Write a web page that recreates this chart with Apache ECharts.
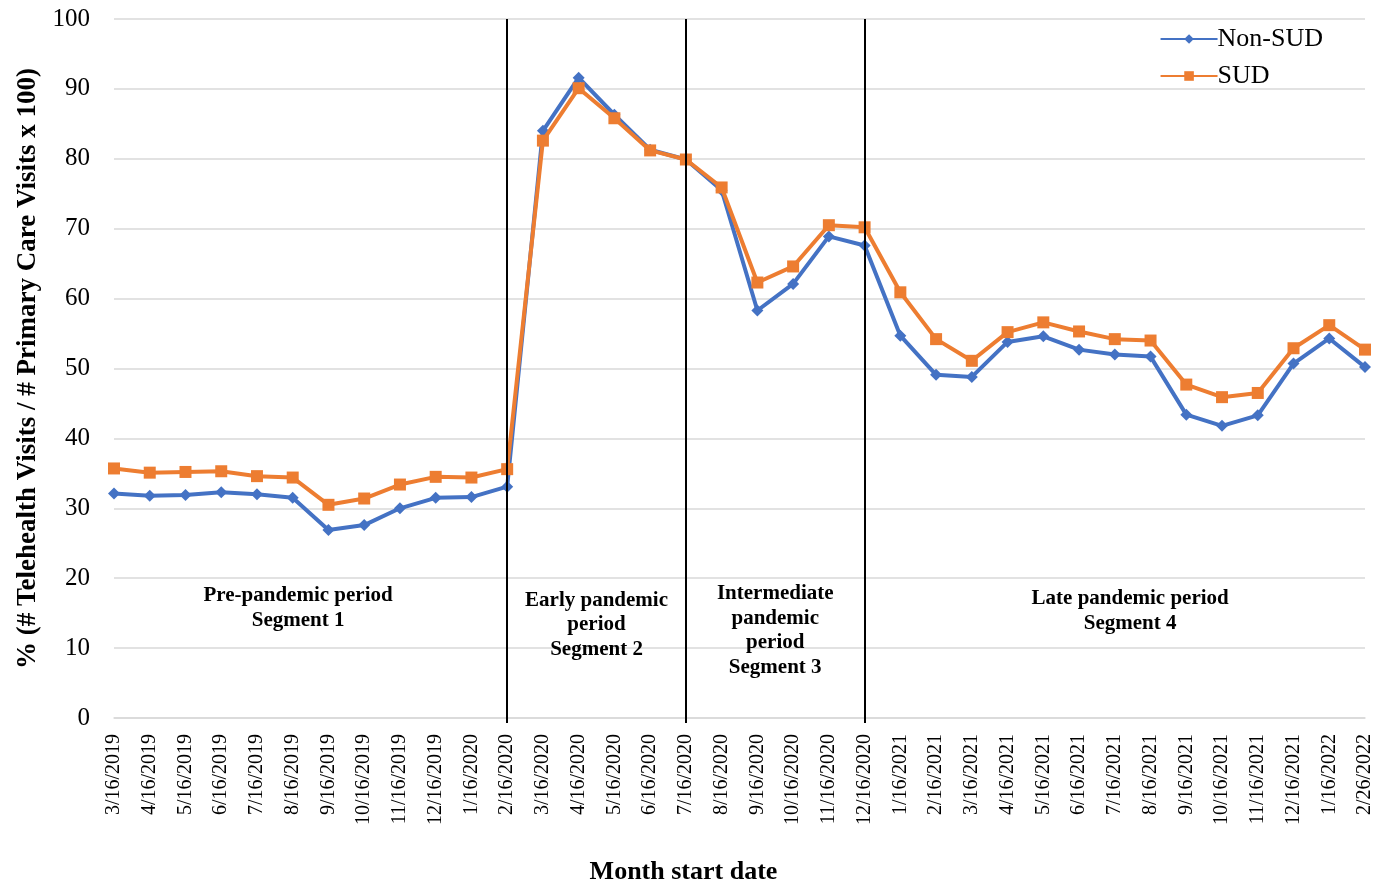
<!DOCTYPE html>
<html>
<head>
<meta charset="utf-8">
<script src="https://cdn.jsdelivr.net/npm/echarts@6/dist/echarts.min.js"></script>
<style>
  html, body { margin: 0; padding: 0; background: #fff; }
  #chart { width: 1380px; height: 889px; }
</style>
</head>
<body>
<div id="chart"></div>
<script>
// Month start dates (x axis categories)
const months = [
  '3/16/2019','4/16/2019','5/16/2019','6/16/2019','7/16/2019','8/16/2019',
  '9/16/2019','10/16/2019','11/16/2019','12/16/2019','1/16/2020','2/16/2020',
  '3/16/2020','4/16/2020','5/16/2020','6/16/2020','7/16/2020','8/16/2020',
  '9/16/2020','10/16/2020','11/16/2020','12/16/2020','1/16/2021','2/16/2021',
  '3/16/2021','4/16/2021','5/16/2021','6/16/2021','7/16/2021','8/16/2021',
  '9/16/2021','10/16/2021','11/16/2021','12/16/2021','1/16/2022','2/26/2022'
];

// Telehealth share of primary care visits, %
const nonSud = [
  32.1, 31.8, 31.9, 32.3, 32.0, 31.5, 26.9, 27.6, 30.0, 31.5, 31.6, 33.1,
  84.0, 91.6, 86.3, 81.3, 79.9, 75.5, 58.3, 62.1, 68.9, 67.6, 54.7, 49.1,
  48.8, 53.8, 54.6, 52.7, 52.0, 51.7, 43.4, 41.8, 43.3, 50.7, 54.3, 50.2
];
const sud = [
  35.7, 35.1, 35.2, 35.3, 34.6, 34.4, 30.5, 31.4, 33.4, 34.5, 34.4, 35.6,
  82.6, 90.1, 85.8, 81.2, 79.9, 75.9, 62.3, 64.6, 70.5, 70.2, 60.9, 54.2,
  51.1, 55.2, 56.6, 55.3, 54.2, 54.0, 47.7, 45.9, 46.5, 52.9, 56.2, 52.7
];

// Period boundaries and segment labels
const boundaries = ['2/16/2020', '7/16/2020', '12/16/2020'];
const segmentLabels = [
  'Pre-pandemic period\nSegment 1',
  'Early pandemic\nperiod\nSegment 2',
  'Intermediate\npandemic\nperiod\nSegment 3',
  'Late pandemic period\nSegment 4'
];
// Caption anchors: x as a (fractional) category index, y in %
const segmentAnchors = [
  { x: 5.15, y: 15.7 },
  { x: 13.5, y: 13.3 },
  { x: 18.5, y: 12.5 },
  { x: 28.43, y: 15.3 }
];

const yTicks = { min: 0, max: 100, interval: 10 };
const serif = '"Liberation Serif", "Times New Roman", serif';
const boundaryIdx = boundaries.map(b => months.indexOf(b));

const chart = echarts.init(document.getElementById('chart'), null, { renderer: 'canvas' });

const option = {
  backgroundColor: '#ffffff',
  animation: false,
  textStyle: { fontFamily: serif, color: '#000' },
  grid: { left: 114, right: 15, top: 19, bottom: 171, containLabel: false, outerBoundsMode: 'none' },
  legend: {
    orient: 'vertical',
    right: 57,
    top: 26,
    itemWidth: 57,
    itemHeight: 12,
    itemGap: 11,
    padding: 0,
    textStyle: { fontFamily: serif, fontSize: 26, color: '#000', padding: [0, 0, 0, -5] },
    data: ['Non-SUD', 'SUD']
  },
  xAxis: {
    type: 'category',
    data: months,
    boundaryGap: false,
    name: 'Month start date',
    nameLocation: 'middle',
    nameGap: 141,
    nameTextStyle: {
      fontFamily: serif, fontSize: 26, fontWeight: 'bold', color: '#000',
      padding: [0, 112, 0, 0]
    },
    axisLine: { show: true, lineStyle: { color: '#d9d9d9', width: 1.5 } },
    axisTick: {
      show: true,
      alignWithLabel: true,
      length: 5,
      interval: (idx) => boundaryIdx.indexOf(idx) >= 0,
      lineStyle: { color: '#000', width: 2 }
    },
    axisLabel: {
      rotate: 90,
      interval: 0,
      margin: 16,
      fontFamily: serif,
      fontSize: 20,
      color: '#000'
    },
    splitLine: { show: false }
  },
  yAxis: {
    type: 'value',
    min: yTicks.min,
    max: yTicks.max,
    interval: yTicks.interval,
    name: '% (# Telehealth Visits / # Primary Care Visits x 100)',
    nameLocation: 'middle',
    nameGap: 72,
    nameTextStyle: { fontFamily: serif, fontSize: 27, fontWeight: 'bold', color: '#000' },
    axisLine: { show: false },
    axisTick: { show: false },
    axisLabel: { fontFamily: serif, fontSize: 25, color: '#000', margin: 24 },
    splitLine: { show: true, lineStyle: { color: '#d9d9d9', width: 1.5 } }
  },
  series: [
    {
      name: 'Non-SUD',
      type: 'line',
      data: nonSud,
      symbol: 'diamond',
      symbolSize: 12,
      showAllSymbol: true,
      itemStyle: { color: '#4472C4' },
      lineStyle: { color: '#4472C4', width: 4 },
      z: 3
    },
    {
      name: 'SUD',
      type: 'line',
      data: sud,
      symbol: 'rect',
      symbolSize: 12,
      showAllSymbol: true,
      itemStyle: { color: '#ED7D31' },
      lineStyle: { color: '#ED7D31', width: 4 },
      z: 4,
      markLine: {
        silent: true,
        symbol: 'none',
        label: { show: false },
        lineStyle: { color: '#000', width: 2, type: 'solid' },
        data: boundaries.map(b => ({ xAxis: b }))
      }
    }
  ]
};

chart.setOption(option);

// Place the segment captions by interpolating between category positions
const p0 = chart.convertToPixel({ gridIndex: 0 }, [0, 0]);
const p1 = chart.convertToPixel({ gridIndex: 0 }, [1, 100]);
const step = p1[0] - p0[0];
const perUnit = (p0[1] - p1[1]) / 100;
const graphics = segmentLabels.map((txt, i) => ({
  type: 'text',
  x: p0[0] + segmentAnchors[i].x * step,
  y: p0[1] - segmentAnchors[i].y * perUnit,
  style: {
    text: txt,
    fill: '#000',
    font: 'bold 21px ' + serif,
    align: 'center',
    verticalAlign: 'middle',
    lineHeight: 24.7
  },
  z: 10
}));
chart.setOption({ graphic: graphics });
</script>
</body>
</html>
